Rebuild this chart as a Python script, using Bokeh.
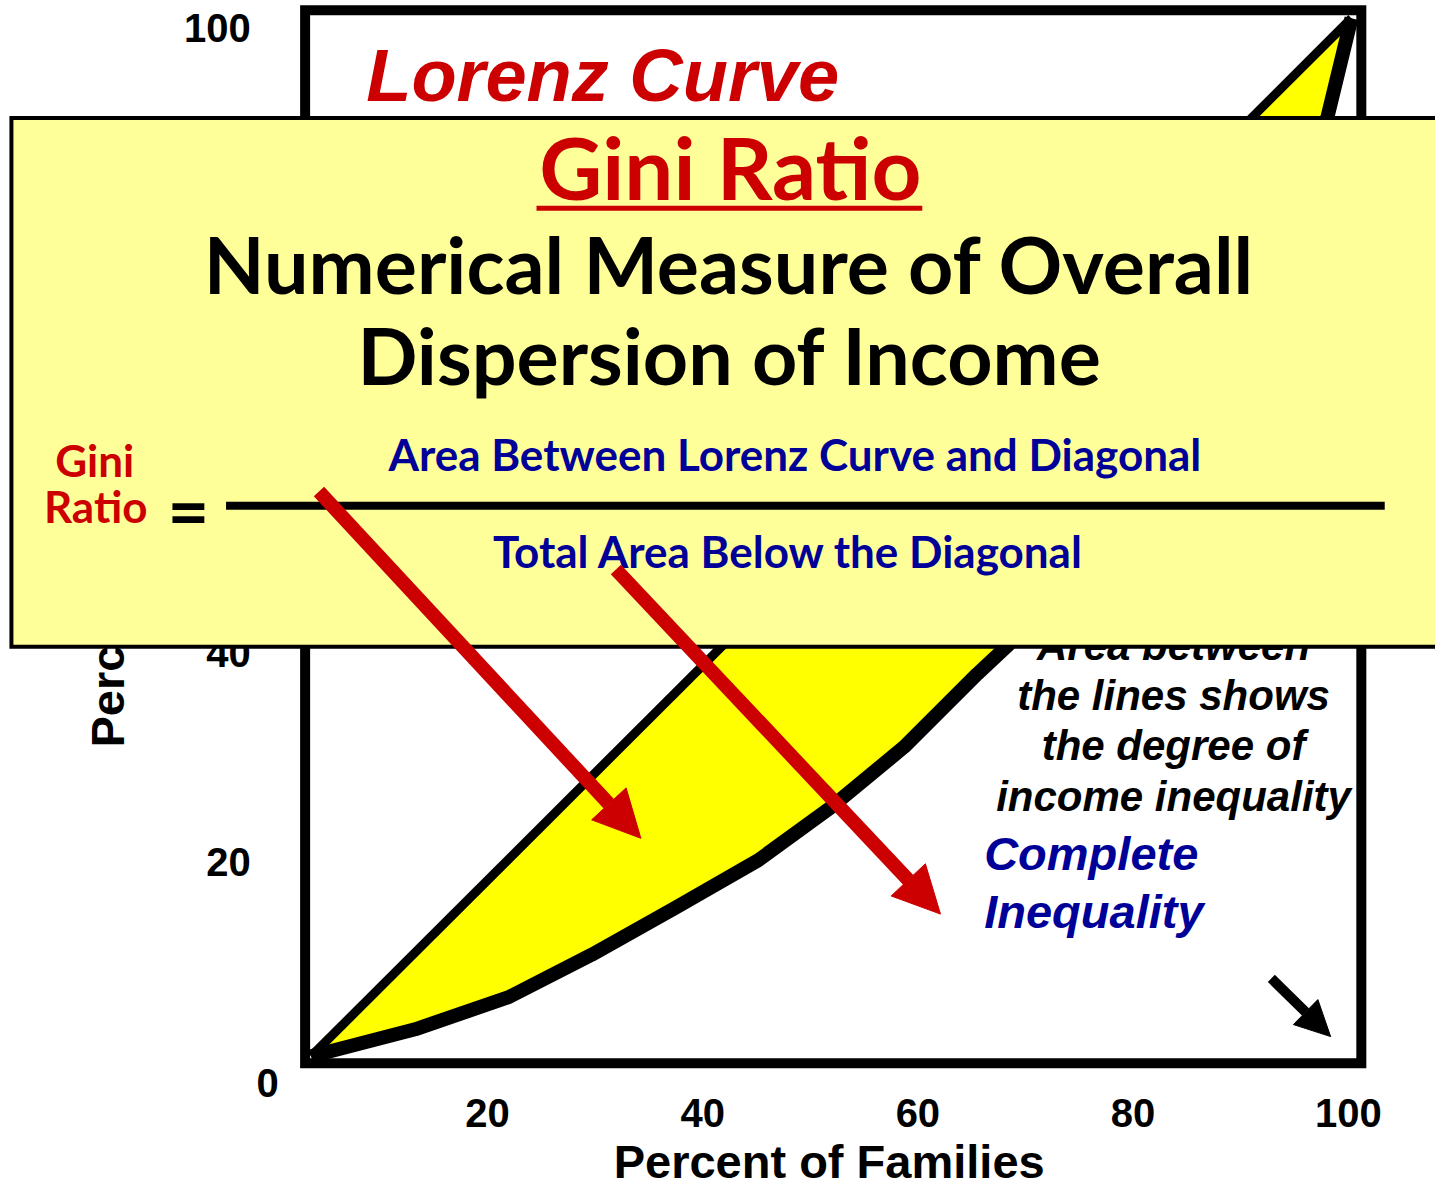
import math
from bokeh.plotting import figure
from bokeh.models import Range1d, Arrow, NormalHead
from bokeh.core.properties import value
from bokeh.embed import file_html
from bokeh.resources import INLINE

# ---------------- data ----------------
families_pct = [0, 10, 19, 27, 35, 43, 50, 57, 64, 67, 70, 76, 82, 88, 93, 97.7, 100]
income_pct = [0, 2.6, 5.7, 9.8, 14.3, 18.9, 24, 29.8, 36.8, 39.6, 43, 51, 59.5, 68.5, 78.5, 90.5, 100]
equality_x = [0, 100]
equality_y = [0, 100]
x_tick_values = [20, 40, 60, 80, 100]
x_tick_labels = ["20", "40", "60", "80", "100"]
y_tick_values = [20, 40, 60, 80, 100]
y_tick_labels = ["20", "40", "60", "80", "100"]
origin_label = "0"
x_title = "Percent of Families"
y_title = "Percent of Income"
chart_title = "Lorenz Curve"
box_title = "Gini Ratio"
box_lines = ["Numerical Measure of Overall", "Dispersion of Income"]
ratio_label = ["Gini", "Ratio"]
numerator = "Area Between Lorenz Curve and Diagonal"
denominator = "Total Area Below the Diagonal"
note_lines = ["Area between", "the lines shows", "the degree of", "income inequality"]
blue_lines = ["Complete", "Inequality"]

RED = "#CC0000"
BLUE = "#000099"
ARIAL = value("Liberation Sans")
CALIBRI = value("Lato")

W, H = 1435, 1187
p = figure(width=W, height=H, output_backend="svg", toolbar_location=None,
           x_range=Range1d(-29.85, 108.08), y_range=Range1d(-12.64, 101.71),
           min_border=0, x_axis_type=None, y_axis_type=None)
p.outline_line_color = None
p.background_fill_color = "white"
p.extra_x_ranges = {"xt": Range1d(-274.8 / 10.88, (1451 - 274.8) / 10.88)}
p.extra_y_ranges = {"yt": Range1d((1084.25 - 1203) / 10.5625, 1084.25 / 10.5625)}

# filled area between the curve and the diagonal
p.patch(x=families_pct + equality_x[::-1], y=income_pct + equality_y[::-1],
        fill_color="#FFFF00", line_color=None)
p.line(equality_x, equality_y, line_color="black", line_width=9)
p.line(families_pct, income_pct, line_color="black", line_width=14, line_join="round")

# chart frame
p.quad(left=-0.57, right=100.95, top=100.76, bottom=-0.67, fill_color=None,
       line_color="black", line_width=10, line_join="miter")

# tick labels
p.text(x=x_tick_values, y=[-5.51] * len(x_tick_values), text=x_tick_labels,
       x_range_name="xt", text_align="center", text_baseline="middle",
       text_font=ARIAL, text_font_style="bold", text_font_size=value("40px"),
       text_color="black")
p.text(x=[-5.8] * len(y_tick_values), y=y_tick_values, text=y_tick_labels,
       y_range_name="yt", text_align="right", text_baseline="middle",
       text_font=ARIAL, text_font_style="bold", text_font_size=value("40px"),
       text_color="black")
p.text(x=[-4.18], y=[-2.57], text=[origin_label], text_align="center",
       text_baseline="middle", text_font=ARIAL, text_font_style="bold",
       text_font_size=value("40px"), text_color="black")

# axis titles
p.text(x=[49.8], y=[-10.1], text=[x_title], text_align="center",
       text_baseline="middle", text_font=ARIAL, text_font_style="bold",
       text_font_size=value("47px"), text_color="black")
p.text(x=[-19.58], y=[29.75], text=[y_title], angle=math.pi / 2,
       text_align="left", text_baseline="middle", text_font=ARIAL,
       text_font_style="bold", text_font_size=value("47px"), text_color="black")

# chart title
p.text(x=[5.3], y=[94.44], text=[chart_title], text_align="left",
       text_baseline="middle", text_font=ARIAL, text_font_style="bold italic",
       text_font_size=value("74px"), text_color=RED)

# notes
p.text(x=[82.9] * 4, y=[39.59, 34.74, 29.90, 25.05], text=note_lines,
       text_align="center", text_baseline="middle", text_font=ARIAL,
       text_font_style="bold italic", text_font_size=value("42px"),
       text_color="black")
p.text(x=[64.7] * 2, y=[19.49, 13.93], text=blue_lines, text_align="left",
       text_baseline="middle", text_font=ARIAL,
       text_font_style="bold italic", text_font_size=value("47px"),
       text_color=BLUE)

# overlay box
p.quad(left=-28.8, right=110, top=90.4, bottom=39.45, fill_color="#FFFF99",
       line_color="black", line_width=4, line_join="miter")

p.text(x=[40.3], y=[85.69], text=[box_title], text_align="center",
       text_baseline="middle", text_font=CALIBRI, text_font_style="bold",
       text_font_size=value("87px"), text_color=RED)
p.segment(x0=[21.67], y0=[81.7], x1=[58.75], y1=[81.7], line_color=RED,
          line_width=5)
p.text(x=[40.2, 40.26], y=[76.38, 67.63], text=box_lines, text_align="center",
       text_baseline="middle", text_font=CALIBRI, text_font_style="bold",
       text_font_size=value("79px"), text_color="black")
p.text(x=[-20.8, -20.7], y=[57.41, 53.04], text=ratio_label,
       text_align="center", text_baseline="middle", text_font=CALIBRI,
       text_font_style="bold", text_font_size=value("44px"), text_color=RED)
p.text(x=[-11.8], y=[52.66], text=["="], text_align="center",
       text_baseline="middle", text_font=CALIBRI, text_font_style="bold",
       text_font_size=value("72px"), text_color="black")
p.segment(x0=[-8.17], y0=[53.04], x1=[103.2], y1=[53.04], line_color="black",
          line_width=8)
p.text(x=[46.5], y=[57.98], text=[numerator], text_align="center",
       text_baseline="middle", text_font=CALIBRI, text_font_style="bold",
       text_font_size=value("44px"), text_color=BLUE)
p.text(x=[45.9], y=[48.67], text=[denominator], text_align="center",
       text_baseline="middle", text_font=CALIBRI, text_font_style="bold",
       text_font_size=value("44px"), text_color=BLUE)

# arrows
p.add_layout(Arrow(end=NormalHead(size=47, fill_color=RED, line_color=RED),
                   x_start=0.76, y_start=54.4, x_end=31.7, y_end=21.0,
                   line_color=RED, line_width=14))
p.add_layout(Arrow(end=NormalHead(size=47, fill_color=RED, line_color=RED),
                   x_start=29.3, y_start=46.9, x_end=60.5, y_end=13.7,
                   line_color=RED, line_width=14))
p.add_layout(Arrow(end=NormalHead(size=35, fill_color="black", line_color="black"),
                   x_start=92.3, y_start=7.5, x_end=98.0, y_end=1.9,
                   line_color="black", line_width=10))

open("out.html", "w").write(file_html(p, INLINE))
